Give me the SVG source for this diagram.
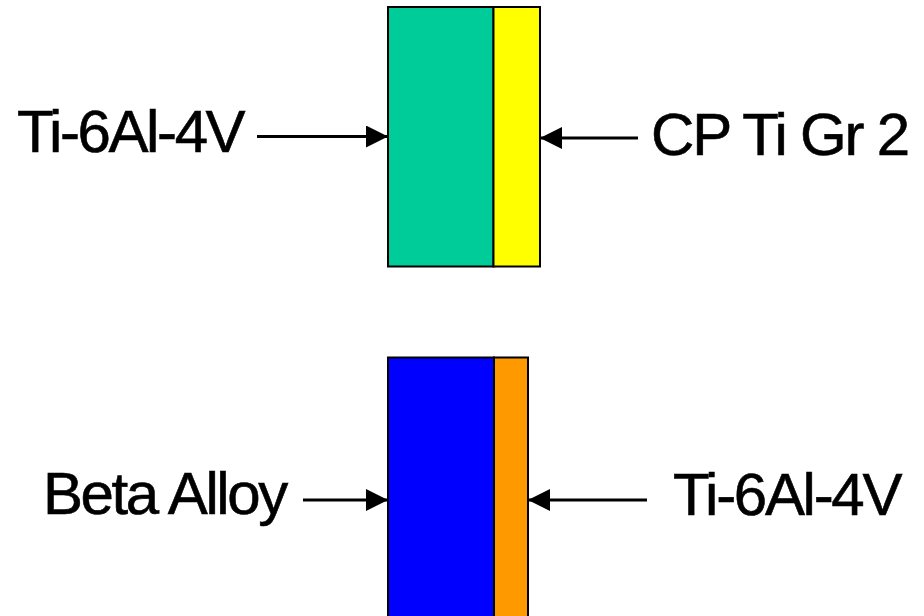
<svg xmlns="http://www.w3.org/2000/svg" width="924" height="616" viewBox="0 0 924 616">
<style>
.lbl{font-family:"Liberation Sans",Arial,sans-serif;font-size:60px;fill:#000;stroke:#000;stroke-width:0.6}
.blk{stroke:#000;stroke-width:2}
.con{stroke:#000;stroke-width:3;fill:none}
</style>
<defs>
<marker id="ah" markerUnits="userSpaceOnUse" markerWidth="22" markerHeight="22" viewBox="0 0 20 20" refX="20" refY="10" orient="auto">
<path d="M0,0 L20,10 L0,20 Z" fill="#000"/>
</marker>
</defs>
<rect width="924" height="616" fill="#fff"/>
<g id="top-block">
<rect class="blk" x="388" y="7" width="105.5" height="259.5" fill="#00CC99"/>
<rect class="blk" x="493.5" y="7" width="46.5" height="259.5" fill="#FFFF00"/>
</g>
<g id="bottom-block">
<rect class="blk" x="388" y="357.5" width="106" height="270" fill="#0000FF"/>
<rect class="blk" x="494" y="357.5" width="34" height="270" fill="#FF9900"/>
</g>
<g id="label-ti64-top"><text class="lbl" x="17" y="152" letter-spacing="-2.4">Ti-6Al-4V</text></g>
<g id="label-cp-ti"><text class="lbl" x="651" y="155" letter-spacing="-2.2">CP Ti Gr 2</text></g>
<g id="label-beta"><text class="lbl" x="43" y="514" font-size="58" letter-spacing="-2.4">Beta Alloy</text></g>
<g id="label-ti64-bottom"><text class="lbl" x="673" y="515" letter-spacing="-2.3">Ti-6Al-4V</text></g>
<g id="connectors">
<line class="con" x1="257" y1="136.5" x2="388" y2="136.5" marker-end="url(#ah)"/>
<line class="con" x1="638" y1="138" x2="540" y2="138" marker-end="url(#ah)"/>
<line class="con" x1="303" y1="500" x2="388" y2="500" marker-end="url(#ah)"/>
<line class="con" x1="647" y1="500" x2="528" y2="500" marker-end="url(#ah)"/>
</g>
</svg>
